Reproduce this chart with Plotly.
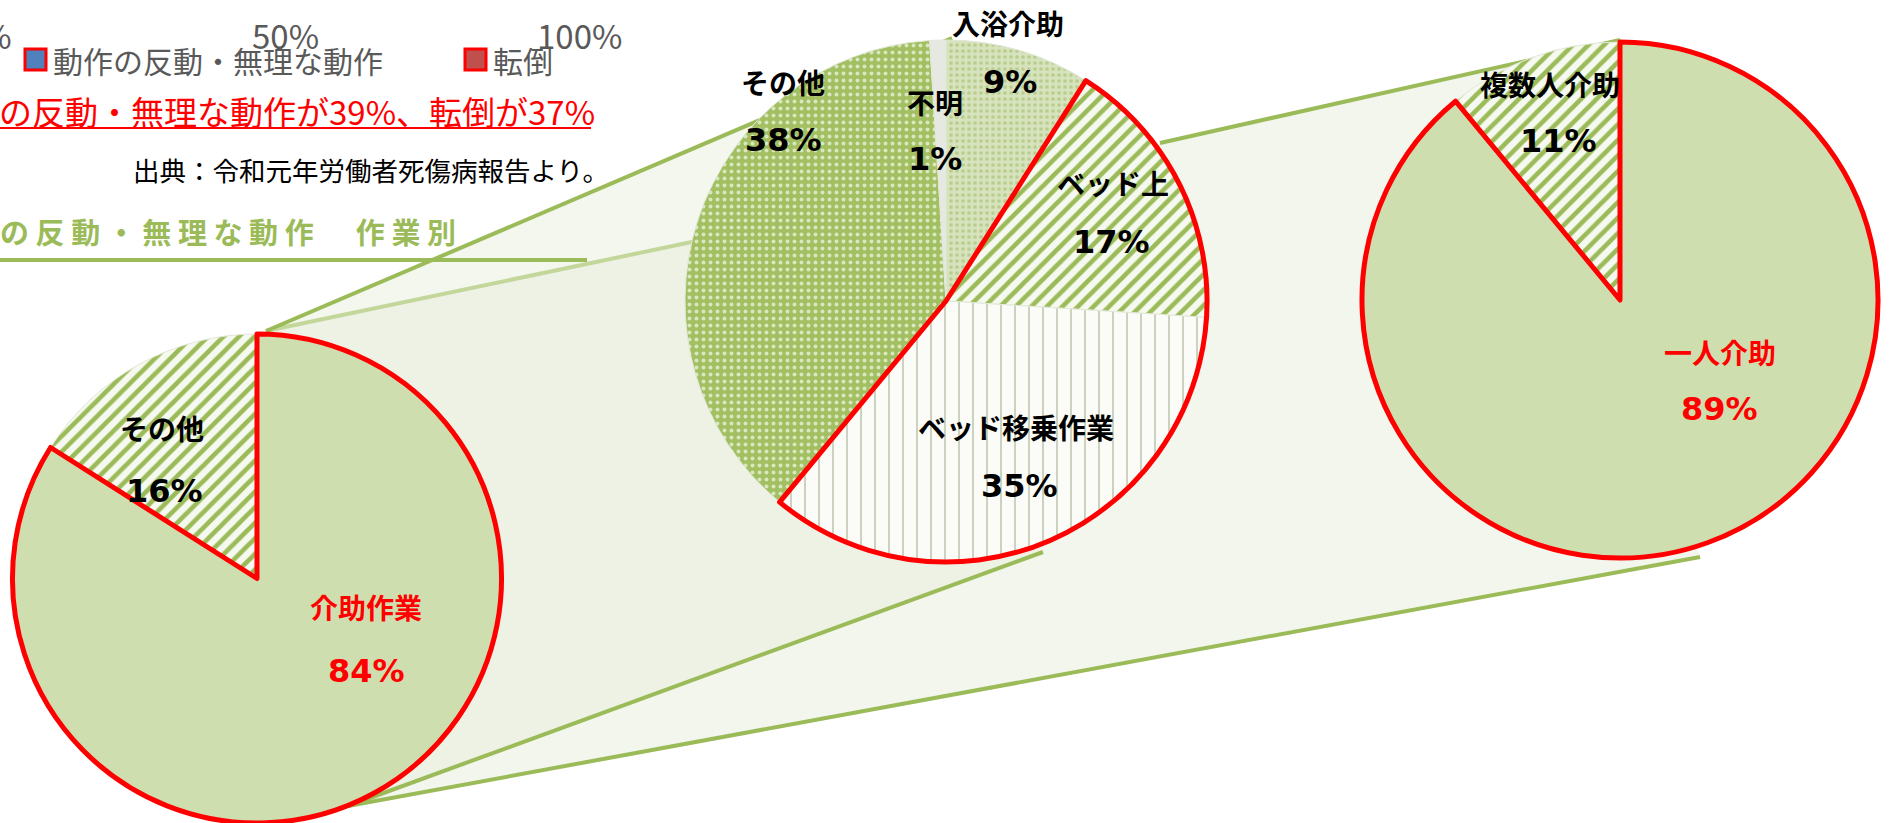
import plotly.graph_objects as go

W, H = 1890, 823

# ---------------- data ----------------
left_labels = ["介助作業", "その他"]
left_values = [84, 16]
mid_labels = ["入浴介助", "ベッド上", "ベッド移乗作業", "その他", "不明"]
mid_values = [9, 17, 35, 38, 1]
right_labels = ["一人介助", "複数人介助"]
right_values = [89, 11]
bar_axis_ticks = ["0%", "50%", "100%"]
bar_legend = ["動作の反動・無理な動作", "転倒"]
headline_values = [39, 37]
source_text = "出典：令和元年労働者死傷病報告より。"
section_title = "の反動・無理な動作　作業別"

# ---------------- layout helpers ----------------
def fx(x):
    return x / W

def fy(y):
    return 1 - y / H

def dom(cx, cy, r):
    return dict(x=[max(0, fx(cx - r)), min(1, fx(cx + r))],
                y=[max(0, fy(cy + r)), min(1, fy(cy - r))])

LEFT = (257, 579, 245)
MID = (946, 301, 261)
RIGHT = (1620, 300, 258)

GREEN = "#9bbb59"
LIGHT_GREEN_LINE = "#c4d79b"
RED = "#ff0000"
BASE_FILL = "#cfdeae"
TRANSPARENT = "rgba(0,0,0,0)"

fig = go.Figure()


def base_pie(values, labels, domain, colors, shapes, fgs, bgs, sizes, sol):
    return go.Pie(
        values=values, labels=labels, domain=domain, sort=False,
        direction="clockwise", rotation=0, textinfo="none",
        hoverinfo="label+percent", showlegend=False,
        marker=dict(colors=colors, line=dict(color="#e2e8d8", width=1),
                    pattern=dict(shape=shapes, fgcolor=fgs, bgcolor=bgs,
                                 size=sizes, solidity=sol, fillmode="replace")))


def outline_pie(values, labels, domain, widths):
    return go.Pie(
        values=values, labels=labels, domain=domain, sort=False,
        direction="clockwise", rotation=0, textinfo="none",
        hoverinfo="skip", showlegend=False,
        marker=dict(colors=[TRANSPARENT] * len(values),
                    line=dict(color=[RED if w > 0 else TRANSPARENT for w in widths],
                              width=widths)))


# left pie
fig.add_trace(base_pie(left_values, left_labels, dom(*LEFT),
                       [BASE_FILL, "#eef3e2"], ["", "/"],
                       [BASE_FILL, GREEN], [BASE_FILL, "#f6f9ef"],
                       [8, 11], [0.3, 0.42]))
fig.add_trace(outline_pie(left_values, left_labels, dom(*LEFT), [5, 0]))

# middle pie
fig.add_trace(base_pie(mid_values, mid_labels, dom(*MID),
                       ["#d6e3bd", "#eef3e2", "#fbfcf7", "#a2bf62", "#e6e9e1"],
                       [".", "/", "|", ".", ""],
                       ["#bacd90", GREEN, "#b8c1a8", "#d9e7be", "#e6e9e1"],
                       ["#d6e3bd", "#f6f9ef", "#fbfcf7", "#a2bf62", "#e6e9e1"],
                       [6, 11, 14, 7, 8], [0.3, 0.42, 0.1, 0.25, 0.2]))
mid_groups = [mid_values[0], mid_values[1] + mid_values[2], mid_values[3] + mid_values[4]]
fig.add_trace(outline_pie(mid_groups, ["入浴介助 ", "ベッド上・移乗", "その他・不明"],
                          dom(*MID), [0, 5, 0]))

# right pie
fig.add_trace(base_pie(right_values, right_labels, dom(*RIGHT),
                       [BASE_FILL, "#eef3e2"], ["", "/"],
                       [BASE_FILL, GREEN], [BASE_FILL, "#f6f9ef"],
                       [8, 11], [0.3, 0.42]))
fig.add_trace(outline_pie(right_values, right_labels, dom(*RIGHT), [5, 0]))

# ---------------- connector shapes ----------------
L_TOP = (266, 331)
M_TOP = (952, 38)
L_BOT = (348, 806)
M_BOT = (1043, 552)
R_BOT = (1700, 557)
M_RIGHT = (1160, 143)
R_TOP = (1620, 40)
LIGHT_END = (730, 234)
L_C = (LEFT[0], LEFT[1])
M_C = (MID[0], MID[1])
R_C = (RIGHT[0], RIGHT[1])


def path(points):
    return "M " + " L ".join(f"{fx(x)},{fy(y)}" for x, y in points) + " Z"


shapes = []
for pts, col in [
    ([L_TOP, M_TOP, M_C, LIGHT_END], "#f3f7ee"),
    ([L_TOP, LIGHT_END, M_C, M_BOT, L_BOT, L_C], "#edf2e4"),
    ([M_RIGHT, R_TOP, R_C, R_BOT, L_BOT, M_BOT, M_C], "#f2f6ed"),
]:
    shapes.append(dict(type="path", path=path(pts), xref="paper", yref="paper",
                       fillcolor=col, line=dict(width=0), layer="below"))


def seg(p, q, color, width):
    return dict(type="line", xref="paper", yref="paper",
                x0=fx(p[0]), y0=fy(p[1]), x1=fx(q[0]), y1=fy(q[1]),
                line=dict(color=color, width=width), layer="below")


shapes.append(seg((0, 260), (587, 260), GREEN, 4))
shapes.append(seg(L_TOP, LIGHT_END, LIGHT_GREEN_LINE, 4))
shapes.append(seg(L_TOP, M_TOP, GREEN, 4))
shapes.append(seg(L_BOT, M_BOT, GREEN, 4))
shapes.append(seg(L_BOT, R_BOT, GREEN, 4))
shapes.append(seg(M_RIGHT, R_TOP, GREEN, 4))
# headline underline
shapes.append(seg((0, 128), (591, 128), RED, 2))

# legend squares (bar chart legend above)
for x0, col in [(25, "#4f81bd"), (465, "#c0504d")]:
    shapes.append(dict(type="rect", xref="paper", yref="paper",
                       x0=fx(x0), x1=fx(x0 + 21), y0=fy(70), y1=fy(49),
                       fillcolor=col, line=dict(color=RED, width=3)))

fig.update_layout(shapes=shapes)

# ---------------- text ----------------
JP = "Noto Sans CJK JP"
NUM = "DejaVu Sans"
anns = []


def ann(text, x, y, size, color="black", family=JP, xanchor="center", bold=True):
    anns.append(dict(text=f"<b>{text}</b>" if bold else text,
                     x=fx(x), y=fy(y), xref="paper", yref="paper",
                     xanchor=xanchor, yanchor="middle", showarrow=False,
                     font=dict(family=family, size=size, color=color)))


# pie labels
left_pos = {"介助作業": ((366, 607), (366, 671), RED), "その他": ((162, 428), (164, 491), "black")}
mid_pos = {"入浴介助": ((1008, 23), (1010, 82)), "ベッド上": ((1113, 183), (1111, 242)),
           "ベッド移乗作業": ((1016, 427), (1019, 486)), "その他": ((783, 82), (783, 140)),
           "不明": ((935, 102), (935, 159))}
right_pos = {"一人介助": ((1720, 352), (1719, 409), RED), "複数人介助": ((1550, 84), (1558, 141), "black")}

PCT = 32
for lab, v in zip(left_labels, left_values):
    (lp, vp, c) = left_pos[lab]
    ann(lab, *lp, 28, c)
    ann(f"{v}%", *vp, PCT, c, NUM)
for lab, v in zip(mid_labels, mid_values):
    lp, vp = mid_pos[lab]
    ann(lab, *lp, 28)
    ann(f"{v}%", *vp, PCT, "black", NUM)
for lab, v in zip(right_labels, right_values):
    (lp, vp, c) = right_pos[lab]
    ann(lab, *lp, 28, c)
    ann(f"{v}%", *vp, PCT, c, NUM)

# axis ticks of the (cropped) bar chart above
tick_pos = [(14, "right"), (285, "center"), (579, "center")]
for t, (x, a) in zip(bar_axis_ticks, tick_pos):
    ann(t, x, 35, 33, "#595959", JP, a, bold=False)

# legend texts
for t, x in zip(bar_legend, [51, 491]):
    ann(t, x, 60, 30, "#595959", JP, "left", bold=False)

# headline
ann(f"の反動・無理な動作が{headline_values[0]}%、{bar_legend[1]}が{headline_values[1]}%",
    -3, 111, 33, RED, JP, "left", bold=False)
# source
ann(source_text, 611, 169, 26.5, "black", JP, "right", bold=False)
# section title (letter spaced)
ann(" ".join(section_title), -2, 231, 29, GREEN, JP, "left", bold=True)

fig.update_layout(
    annotations=anns,
    width=W, height=H,
    margin=dict(l=0, r=0, t=0, b=0),
    paper_bgcolor="white", plot_bgcolor="white",
    showlegend=False,
)

fig.write_html("out.html",
               config={"displayModeBar": False},
               post_script="document.body.style.margin='0';document.body.style.padding='0';")
